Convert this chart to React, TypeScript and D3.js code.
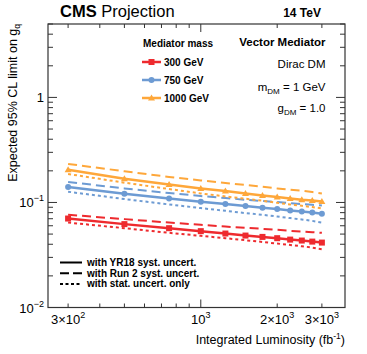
import React from "react";
import * as d3 from "d3";

const lumi = [300, 500, 750, 1000, 1250, 1500, 1750, 2000, 2250, 2500, 2750, 3000];

const red_yr18 = [0.0703, 0.0622, 0.0569, 0.0533, 0.0506, 0.0484, 0.047, 0.0457, 0.0443, 0.0434, 0.0424, 0.0415];
const red_run2 = [0.0763, 0.0694, 0.0644, 0.0612, 0.059, 0.0573, 0.0561, 0.0549, 0.0537, 0.0528, 0.0521, 0.0514];
const red_stat = [0.0644, 0.0569, 0.0514, 0.0481, 0.0457, 0.0437, 0.0421, 0.0406, 0.0394, 0.0383, 0.0372, 0.0359];

const blue_yr18 = [0.1403, 0.1211, 0.1092, 0.1016, 0.0965, 0.0924, 0.089, 0.0865, 0.0839, 0.082, 0.0802, 0.078];
const blue_run2 = [0.1566, 0.136, 0.123, 0.1151, 0.1102, 0.1061, 0.1031, 0.1009, 0.0987, 0.0965, 0.0951, 0.0936];
const blue_stat = [0.1265, 0.1078, 0.0957, 0.0884, 0.0833, 0.0792, 0.0763, 0.0735, 0.071, 0.0688, 0.0668, 0.0644];

const orange_yr18 = [0.205, 0.168, 0.148, 0.136, 0.1285, 0.122, 0.1166, 0.1126, 0.109, 0.106, 0.1045, 0.102];
const orange_run2 = [0.2327, 0.198, 0.175, 0.162, 0.153, 0.1466, 0.1413, 0.136, 0.1322, 0.1293, 0.1257, 0.122];
const orange_stat = [0.1867, 0.1543, 0.1343, 0.1219, 0.1141, 0.1085, 0.1038, 0.0993, 0.0957, 0.093, 0.0904, 0.0877];

const massLabels = ["300 GeV", "750 GeV", "1000 GeV"];
const styleLabels = ["with YR18 syst. uncert.", "with Run 2 syst. uncert.", "with stat. uncert. only"];

const RED = "#ee2a2e";
const BLUE = "#6d9bd3";
const ORANGE = "#fea73a";

const W = 367;
const H = 354;
const L = 48, R = 345, T = 24, B = 307.5;
const FONT = "'Liberation Sans', Arial, Helvetica, sans-serif";

export default function App() {
  const x = d3.scaleLog().domain([250, 3700]).range([L, R]);
  const y = d3.scaleLog().domain([0.01, 5]).range([B, T]);
  const line = d3
    .line<number>()
    .x((_, i) => x(lumi[i]))
    .y((d) => y(d));

  const series = [
    { c: RED, yr: red_yr18, r2: red_run2, st: red_stat, m: "square" },
    { c: BLUE, yr: blue_yr18, r2: blue_run2, st: blue_stat, m: "circle" },
    { c: ORANGE, yr: orange_yr18, r2: orange_run2, st: orange_stat, m: "triangle" },
  ];

  const marker = (m: string, cx: number, cy: number, c: string, key: any) => {
    if (m === "square") return <rect key={key} x={cx - 3} y={cy - 3} width={6} height={6} fill={c} />;
    if (m === "circle") return <circle key={key} cx={cx} cy={cy} r={3} fill={c} />;
    return <path key={key} d={`M${cx},${cy - 3.5}L${cx + 3.5},${cy + 2.5}L${cx - 3.5},${cy + 2.5}Z`} fill={c} />;
  };

  const yMajors = [0.01, 0.1, 1];
  const yMinors: number[] = [];
  for (const dec of [0.01, 0.1, 1]) for (let k = 2; k <= 9; k++) if (dec * k <= 5) yMinors.push(dec * k);
  const xMinors: number[] = [];
  for (let v = 300; v <= 900; v += 100) xMinors.push(v);
  xMinors.push(2000, 3000);
  const xMajors = [1000];

  const axisColor = "#333";

  return (
    <svg width={W} height={H} style={{ position: "absolute", left: 0, top: 0, background: "#fff" }} fontFamily={FONT}>
      <rect x={0} y={0} width={W} height={H} fill="#fff" />
      {series.map((s, si) => (
        <g key={si}>
          <path d={line(s.r2) || ""} fill="none" stroke={s.c} strokeWidth={2} strokeDasharray="9,5" />
          <path d={line(s.st) || ""} fill="none" stroke={s.c} strokeWidth={2} strokeDasharray="3,3" />
          <path d={line(s.yr) || ""} fill="none" stroke={s.c} strokeWidth={2.5} />
          {s.yr.map((v, i) => marker(s.m, x(lumi[i]), y(v), s.c, i))}
        </g>
      ))}

      <rect x={L} y={T} width={R - L} height={B - T} fill="none" stroke={axisColor} strokeWidth={1.2} />
      {yMajors.map((v) => (
        <g key={"ym" + v}>
          <line x1={L} x2={L + 9} y1={y(v)} y2={y(v)} stroke={axisColor} />
          <line x1={R} x2={R - 9} y1={y(v)} y2={y(v)} stroke={axisColor} />
        </g>
      ))}
      {yMinors.map((v) => (
        <g key={"yn" + v}>
          <line x1={L} x2={L + 5} y1={y(v)} y2={y(v)} stroke={axisColor} />
          <line x1={R} x2={R - 5} y1={y(v)} y2={y(v)} stroke={axisColor} />
        </g>
      ))}
      {xMajors.map((v) => (
        <g key={"xm" + v}>
          <line x1={x(v)} x2={x(v)} y1={B} y2={B - 8} stroke={axisColor} />
          <line x1={x(v)} x2={x(v)} y1={T} y2={T + 8} stroke={axisColor} />
        </g>
      ))}
      {xMinors.map((v) => (
        <g key={"xn" + v}>
          <line x1={x(v)} x2={x(v)} y1={B} y2={B - 4} stroke={axisColor} />
          <line x1={x(v)} x2={x(v)} y1={T} y2={T + 4} stroke={axisColor} />
        </g>
      ))}

      <text x={44} y={y(1) + 5} fontSize={13} textAnchor="end">1</text>
      <text x={44} y={y(0.1) + 5} fontSize={13} textAnchor="end">
        10<tspan dy={-6} fontSize={9}>−1</tspan>
      </text>
      <text x={44} y={y(0.01) + 5} fontSize={13} textAnchor="end">
        10<tspan dy={-6} fontSize={9}>−2</tspan>
      </text>

      <text x={x(300)} y={324} fontSize={13} textAnchor="middle">
        3×10<tspan dy={-6} fontSize={9}>2</tspan>
      </text>
      <text x={x(1000)} y={324} fontSize={13} textAnchor="middle">
        10<tspan dy={-6} fontSize={9}>3</tspan>
      </text>
      <text x={x(2000)} y={324} fontSize={13} textAnchor="middle">
        2×10<tspan dy={-6} fontSize={9}>3</tspan>
      </text>
      <text x={x(3000)} y={324} fontSize={13} textAnchor="middle">
        3×10<tspan dy={-6} fontSize={9}>3</tspan>
      </text>

      <text x={R} y={344} fontSize={12.5} textAnchor="end">
        Integrated Luminosity (fb<tspan dy={-5} fontSize={8.5}>-1</tspan>
        <tspan dy={5}>)</tspan>
      </text>
      <text transform={`translate(17,${T}) rotate(-90)`} fontSize={12.5} textAnchor="end">
        Expected 95% CL limit on g<tspan dy={3} fontSize={8.5}>q</tspan>
      </text>

      <text x={60} y={17} fontSize={16.5}>
        <tspan fontWeight="bold">CMS</tspan> Projection
      </text>
      <text x={321} y={17} fontSize={12} fontWeight="bold" textAnchor="end">14 TeV</text>

      <text x={325.5} y={46} fontSize={11.5} fontWeight="bold" textAnchor="end">Vector Mediator</text>
      <text x={325.5} y={67.5} fontSize={11.5} textAnchor="end">Dirac DM</text>
      <text x={325.5} y={91} fontSize={11.5} textAnchor="end">
        m<tspan dy={3} fontSize={8}>DM</tspan>
        <tspan dy={-3}> = 1 GeV</tspan>
      </text>
      <text x={325.5} y={112} fontSize={11.5} textAnchor="end">
        g<tspan dy={3} fontSize={8}>DM</tspan>
        <tspan dy={-3}> = 1.0</tspan>
      </text>

      <text x={143} y={47} fontSize={10} fontWeight="bold">Mediator mass</text>
      {series.map((s, i) => {
        const ly = 62 + i * 18;
        return (
          <g key={"lg" + i}>
            <line x1={142} x2={161} y1={ly} y2={ly} stroke={s.c} strokeWidth={2.5} />
            {marker(s.m, 151.5, ly, s.c, "m")}
            <text x={164} y={ly + 3.5} fontSize={10} fontWeight="bold">{massLabels[i]}</text>
          </g>
        );
      })}

      {styleLabels.map((lab, i) => {
        const ly = 262.5 + i * 10.7;
        const dash = i === 0 ? undefined : i === 1 ? "9,4" : "3,2.5";
        return (
          <g key={"sl" + i}>
            <line x1={60} x2={82} y1={ly} y2={ly} stroke="#000" strokeWidth={2} strokeDasharray={dash} />
            <text x={87} y={ly + 3.5} fontSize={10} fontWeight="bold">{lab}</text>
          </g>
        );
      })}
    </svg>
  );
}
